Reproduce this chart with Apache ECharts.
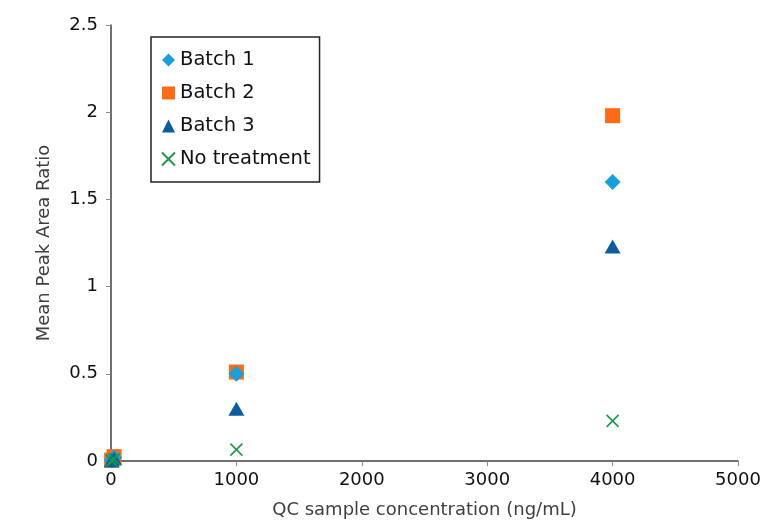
<!DOCTYPE html>
<html>
<head>
<meta charset="utf-8">
<script src="https://cdn.jsdelivr.net/npm/echarts@6/dist/echarts.min.js"></script>
<style>html,body{margin:0;padding:0;background:#fff;}#c{width:765px;height:524px;}</style>
</head>
<body>
<div id="c"></div>
<script>
const seriesNames = ['Batch 1', 'Batch 2', 'Batch 3', 'No treatment'];
const concentrations = [5, 25, 1000, 4000];
const batch1 = [0.004, 0.02, 0.50, 1.60];
const batch2 = [0.005, 0.025, 0.51, 1.98];
const batch3 = [0.003, 0.015, 0.30, 1.23];
const noTreatment = [0.002, 0.01, 0.065, 0.23];
const xTicks = [0, 1000, 2000, 3000, 4000, 5000];
const yTicks = [0, 0.5, 1, 1.5, 2, 2.5];

const FONT = 'DejaVu Sans';
const pairs = (ys) => concentrations.map((x, i) => [x, ys[i]]);
const xPath = 'path://M0,0L10,10M10,0L0,10';

const chart = echarts.init(document.getElementById('c'), null, {renderer: 'canvas'});
chart.setOption({
  animation: false,
  backgroundColor: '#fff',
  grid: {left: 111, right: 27, top: 25, bottom: 62, containLabel: false},
  legend: {
    data: seriesNames,
    orient: 'vertical',
    left: 151, top: 37,
    padding: [12, 9, 12, 10],
    borderColor: '#222',
    borderWidth: 1.5,
    itemWidth: 13, itemHeight: 13,
    itemGap: 11,
    textStyle: {fontFamily: FONT, fontSize: 19.5, color: '#111', lineHeight: 22}
  },
  xAxis: {
    type: 'value', min: xTicks[0], max: xTicks[xTicks.length - 1], interval: 1000,
    name: 'QC sample concentration (ng/mL)', nameLocation: 'middle', nameGap: 40,
    nameTextStyle: {fontFamily: FONT, fontSize: 18, color: '#404040'},
    axisLine: {show: true, lineStyle: {color: '#404040', width: 1.5}},
    axisTick: {show: true, length: 5, lineStyle: {color: '#888'}},
    axisLabel: {fontFamily: FONT, fontSize: 18, color: '#111', margin: 10,
      formatter: (v) => String(v)},
    splitLine: {show: false}
  },
  yAxis: {
    type: 'value', min: yTicks[0], max: yTicks[yTicks.length - 1], interval: 0.5,
    name: 'Mean Peak Area Ratio', nameLocation: 'middle', nameGap: 58,
    nameTextStyle: {fontFamily: FONT, fontSize: 18, color: '#404040'},
    axisLine: {show: true, lineStyle: {color: '#404040', width: 1.5}},
    axisTick: {show: true, length: 5, lineStyle: {color: '#888'}},
    axisLabel: {fontFamily: FONT, fontSize: 18, color: '#111', margin: 13,
      formatter: (v) => String(v)},
    splitLine: {show: false}
  },
  series: [
    {name: 'Batch 2', type: 'scatter', symbol: 'rect', symbolSize: 15,
     itemStyle: {color: '#ff6a13', opacity: 1}, data: pairs(batch2)},
    {name: 'Batch 1', type: 'scatter', symbol: 'diamond', symbolSize: 16,
     itemStyle: {color: '#16a0dd', opacity: 1}, data: pairs(batch1)},
    {name: 'Batch 3', type: 'scatter', symbol: 'triangle', symbolSize: [16, 14],
     itemStyle: {color: '#0c5d9b', opacity: 1}, data: pairs(batch3)},
    {name: 'No treatment', type: 'scatter', symbol: xPath, symbolSize: 12,
     itemStyle: {color: 'rgba(0,0,0,0)', borderColor: '#1a9a48', borderWidth: 1.6, opacity: 1},
     data: pairs(noTreatment)}
  ]
});
</script>
</body>
</html>
